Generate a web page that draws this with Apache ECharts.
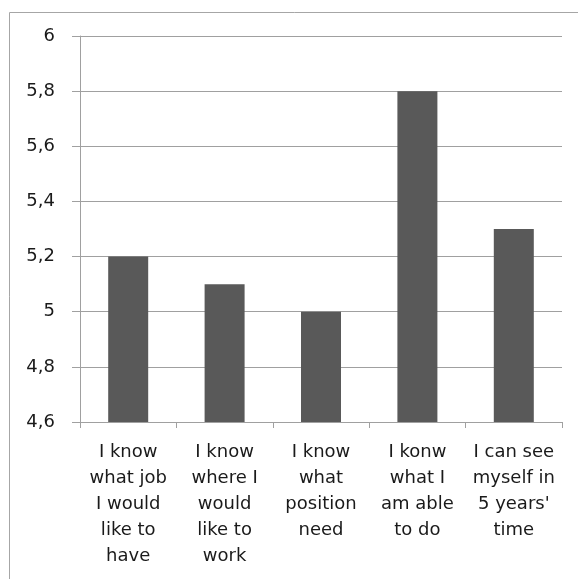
<!DOCTYPE html>
<html>
<head>
<meta charset="utf-8">
<script src="https://cdn.jsdelivr.net/npm/echarts@6/dist/echarts.min.js"></script>
<style>
html,body{margin:0;padding:0;background:#fff;}
#main{width:578px;height:579px;}
</style>
</head>
<body>
<div id="main"></div>
<script>
var categories = [
  "I know\nwhat job\nI would\nlike to\nhave",
  "I know\nwhere I\nwould\nlike to\nwork",
  "I know\nwhat\nposition\nneed",
  "I konw\nwhat I\nam able\nto do",
  "I can see\nmyself in\n5 years'\ntime"
];
var values = [5.2, 5.1, 5.0, 5.8, 5.3];
var yMin = 4.6, yMax = 6, yStep = 0.2;

var chart = echarts.init(document.getElementById('main'));
chart.setOption({
  animation: false,
  backgroundColor: '#fff',
  graphic: [{
    type: 'rect',
    shape: {x: 9.5, y: 12.5, width: 700, height: 700},
    style: {fill: 'none', stroke: '#a6a6a6', lineWidth: 1},
    silent: true
  }],
  grid: {left: 80, right: 16, top: 36, bottom: 157},
  xAxis: {
    type: 'category',
    data: categories,
    boundaryGap: true,
    axisLine: {lineStyle: {color: '#a0a0a0', width: 1}},
    axisTick: {show: true, length: 6, lineStyle: {color: '#a0a0a0'}},
    axisLabel: {
      interval: 0,
      margin: 17,
      fontFamily: 'DejaVu Sans',
      fontSize: 18,
      lineHeight: 26,
      color: '#1a1a1a',
      align: 'center'
    }
  },
  yAxis: {
    type: 'value',
    min: yMin, max: yMax, interval: yStep,
    axisLine: {show: true, lineStyle: {color: '#a0a0a0', width: 1}},
    axisTick: {show: true, length: 8, lineStyle: {color: '#a0a0a0'}},
    splitLine: {show: true, lineStyle: {color: '#a0a0a0', width: 1}},
    axisLabel: {
      margin: 25,
      fontFamily: 'DejaVu Sans',
      fontSize: 18,
      color: '#1a1a1a',
      formatter: function (v) { return String(Math.round(v * 10) / 10).replace('.', ','); }
    }
  },
  series: [{
    type: 'bar',
    data: values,
    barWidth: 40,
    itemStyle: {color: '#595959'}
  }]
});
</script>
</body>
</html>
